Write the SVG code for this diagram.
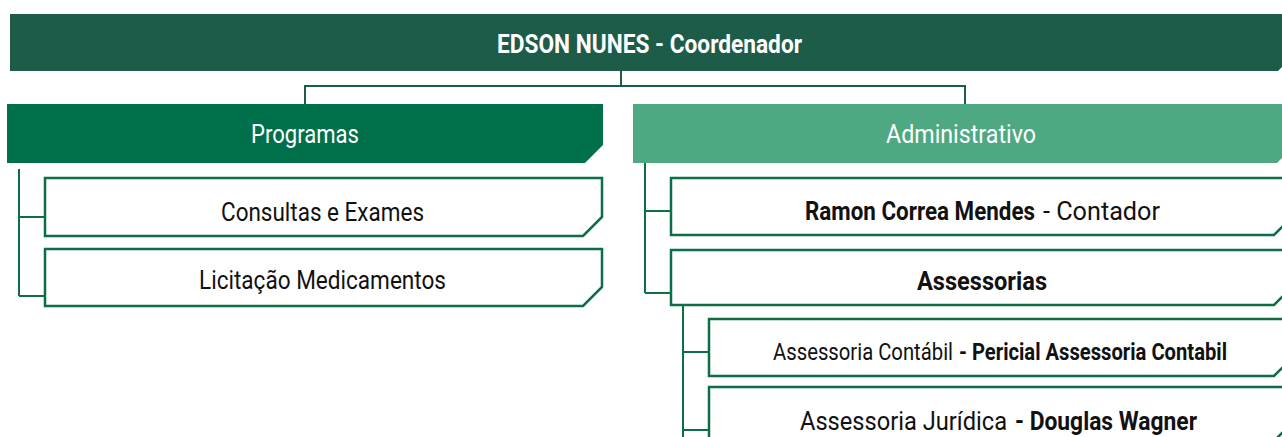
<svg xmlns="http://www.w3.org/2000/svg" width="1282" height="437" viewBox="0 0 1282 437">
<style>
.lbl{font-family:Roboto,"Liberation Sans",sans-serif;}
.w{fill:#ffffff;}
.k{fill:#111111;}
.b{font-weight:bold;}
.box{fill:#ffffff;stroke:#0B6E45;stroke-width:2.5;}
.con{fill:none;stroke:#0B6E45;stroke-width:2;}
.con2{fill:none;stroke:#1E5C4A;stroke-width:2;}
</style>
<rect width="1282" height="437" fill="#ffffff"/>
<g id="connectors">
<path class="con2" d="M621,71 V86 M304,86 H966 M305,86 V104 M965,86 V104"/>
<path class="con" d="M19,169 V296 M19,217 H45 M19,296 H45"/>
<path class="con" d="M645,163 V293 M645,211 H671 M645,293 H671"/>
<path class="con" d="M683,305 V437 M683,352 H709 M683,430 H709"/>
</g>
<g id="coordenador">
<path d="M10,14 H1290 V59 L1278,71 H10 Z" fill="#1E5C4A"/>
<text class="lbl w b" font-size="22.7" transform="translate(497,53) scale(1,1.13)" x="0" y="0" textLength="305" lengthAdjust="spacingAndGlyphs">EDSON NUNES - Coordenador</text>
</g>
<g id="programas">
<path d="M7,104 H603 V145 L585,163 H7 Z" fill="#00704A"/>
<text class="lbl w" font-size="21.4" transform="translate(251,143) scale(1,1.2)" x="0" y="0" textLength="108" lengthAdjust="spacingAndGlyphs">Programas</text>
</g>
<g id="administrativo">
<path d="M633,104 H1290 V150 L1277,163 H633 Z" fill="#4EA882"/>
<text class="lbl w" font-size="24.3" transform="translate(886,143) scale(1,1.06)" x="0" y="0" textLength="150" lengthAdjust="spacingAndGlyphs">Administrativo</text>
</g>
<g id="consultas">
<path class="box" d="M45,178 H602 V217 L583,236 H45 Z"/>
<text class="lbl k" font-size="22" transform="translate(221,221) scale(1,1.18)" x="0" y="0" textLength="203" lengthAdjust="spacingAndGlyphs">Consultas e Exames</text>
</g>
<g id="licitacao">
<path class="box" d="M45,249 H602 V287 L583,306 H45 Z"/>
<text class="lbl k" font-size="22" transform="translate(199,289) scale(1,1.18)" x="0" y="0" textLength="247" lengthAdjust="spacingAndGlyphs">Licitação Medicamentos</text>
</g>
<g id="contador">
<path class="box" d="M671,178 H1292 V217 L1274,235 H671 Z"/>
<text class="lbl k b" font-size="22.1" transform="translate(805,220) scale(1,1.17)" x="0" y="0" textLength="230" lengthAdjust="spacingAndGlyphs">Ramon Correa Mendes</text>
<text class="lbl k" font-size="24.5" transform="translate(1043,220) scale(1,1.06)" x="0" y="0" textLength="117" lengthAdjust="spacingAndGlyphs">- Contador</text>
</g>
<g id="assessorias">
<path class="box" d="M671,250 H1292 V287 L1274,305 H671 Z"/>
<text class="lbl k b" font-size="23.2" transform="translate(917,290) scale(1,1.12)" x="0" y="0" textLength="130" lengthAdjust="spacingAndGlyphs">Assessorias</text>
</g>
<g id="contabil">
<path class="box" d="M709,319 H1292 V358 L1274,376 H709 Z"/>
<text class="lbl k" font-size="19.5" transform="translate(773,360) scale(1,1.24)" x="0" y="0" textLength="180" lengthAdjust="spacingAndGlyphs">Assessoria Contábil</text>
<text class="lbl k b" font-size="20.2" transform="translate(959,360) scale(1,1.2)" x="0" y="0" textLength="268" lengthAdjust="spacingAndGlyphs">- Pericial Assessoria Contabil</text>
</g>
<g id="juridica">
<path class="box" d="M709,387 H1292 V423 L1274,441 H709 Z"/>
<text class="lbl k" font-size="23.1" transform="translate(800,430) scale(1,1.13)" x="0" y="0" textLength="207" lengthAdjust="spacingAndGlyphs">Assessoria Jurídica</text>
<text class="lbl k b" font-size="22.7" transform="translate(1015,430) scale(1,1.14)" x="0" y="0" textLength="182" lengthAdjust="spacingAndGlyphs">- Douglas Wagner</text>
</g>
</svg>
